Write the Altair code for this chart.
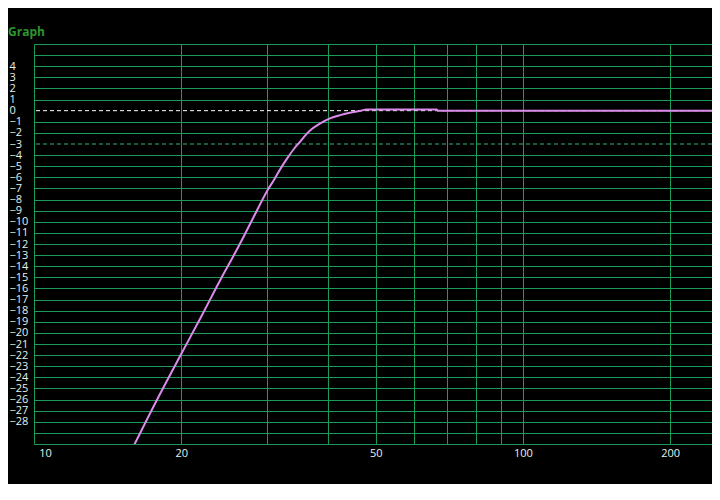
import altair as alt
import pandas as pd

# Curve: frequency (Hz) and level (dB)
freq_hz = [15.9, 18.0, 20.0, 22.0, 24.0, 26.0, 28.0, 30.0, 31.0, 32.0, 33.0, 34.0,
           35.0, 36.0, 37.0, 38.5, 40.3, 42.3, 44.3, 46.4, 47.9, 66.6, 67.0, 260.0]
gain_db = [-30.4, -25.7, -21.9, -18.5, -15.3, -12.5, -9.75, -7.2, -6.2, -5.15, -4.25, -3.45,
           -2.8, -2.15, -1.65, -1.15, -0.7, -0.4, -0.18, -0.03, 0.1, 0.1, 0.0, 0.0]

# Axes
x_grid_values = [10, 20, 30, 40, 50, 60, 70, 80, 90, 100, 200, 300]
x_label_values = [10, 20, 50, 100, 200]
y_grid_values = list(range(6, -31, -1))
y_label_top = 4
y_label_bottom = -28

# Reference levels drawn dashed
ref_levels = [0, -3]
ref_colors = ["#ffffff", "#34b070"]

GRID = "#1c9a58"
LABEL = "#e2f4ee"
FONT = "Open Sans"

curve = pd.DataFrame({"freq": freq_hz, "gain": gain_db})
refs = pd.DataFrame({"level": ref_levels, "color": ref_colors})

x_scale = alt.Scale(type="log", domain=[10, 243.6], nice=False)
y_scale = alt.Scale(domain=[-30, 6], nice=False, zero=False)

x_label_test = "indexof([" + ",".join(str(v) for v in x_label_values) + "], datum.value) >= 0"

x_axis = alt.Axis(
    values=x_grid_values,
    grid=True, gridColor=GRID, gridWidth=1,
    domain=False, ticks=False, tickSize=0,
    labelExpr=x_label_test + " ? format(datum.value, 'd') : ''",
    labelOffset={"condition": {"test": "datum.value == 10", "value": 11}, "value": 0},
    labelPadding=3, labelBaseline="top",
    labelFont=FONT, labelFontSize=11, labelColor=LABEL,
    labelOverlap=False, labelBound=False, labelFlush=False,
    title=None,
)

y_axis = alt.Axis(
    values=y_grid_values,
    grid=True, gridColor=GRID, gridWidth=1,
    gridOpacity={"condition": {"test": "datum.value == 0 || datum.value == -3", "value": 0}, "value": 1},
    domain=False, ticks=False, tickSize=0,
    labelExpr=f"datum.value <= {y_label_top} && datum.value >= {y_label_bottom} ? format(datum.value, 'd') : ''",
    labelAlign="left", labelPadding=25, labelBaseline="middle",
    labelFont=FONT, labelFontSize=11, labelColor=LABEL,
    labelOverlap=False, labelBound=False, labelFlush=False,
    title=None,
)

base_axes = alt.Chart(curve).mark_point(opacity=0).encode(
    x=alt.X("freq:Q", scale=x_scale, axis=x_axis),
    y=alt.Y("gain:Q", scale=y_scale, axis=y_axis),
)

ref_rules = alt.Chart(refs).mark_rule(strokeDash=[4, 3], strokeWidth=1).encode(
    y=alt.Y("level:Q", scale=y_scale, axis=y_axis),
    color=alt.Color("color:N", scale=None),
)

line = alt.Chart(curve).mark_line(color="#dc8cea", strokeWidth=2, clip=True,
                                  interpolate="monotone").encode(
    x=alt.X("freq:Q", scale=x_scale, axis=x_axis),
    y=alt.Y("gain:Q", scale=y_scale, axis=y_axis),
)

chart = alt.layer(base_axes, ref_rules, line).properties(
    width=678,
    height=400,
    title=alt.TitleParams(
        "Graph", anchor="start", frame="group", dx=-26, offset=11, dy=21,
        baseline="alphabetic", font=FONT, fontSize=12, fontWeight="bold",
        color="#2e962e",
    ),
    background="#000000",
    padding={"left": 26, "top": 36, "right": 0, "bottom": 40},
    autosize=alt.AutoSizeParams(type="none"),
).configure_view(stroke=None)

chart.save("out.html", embed_options={"renderer": "svg", "actions": False})
